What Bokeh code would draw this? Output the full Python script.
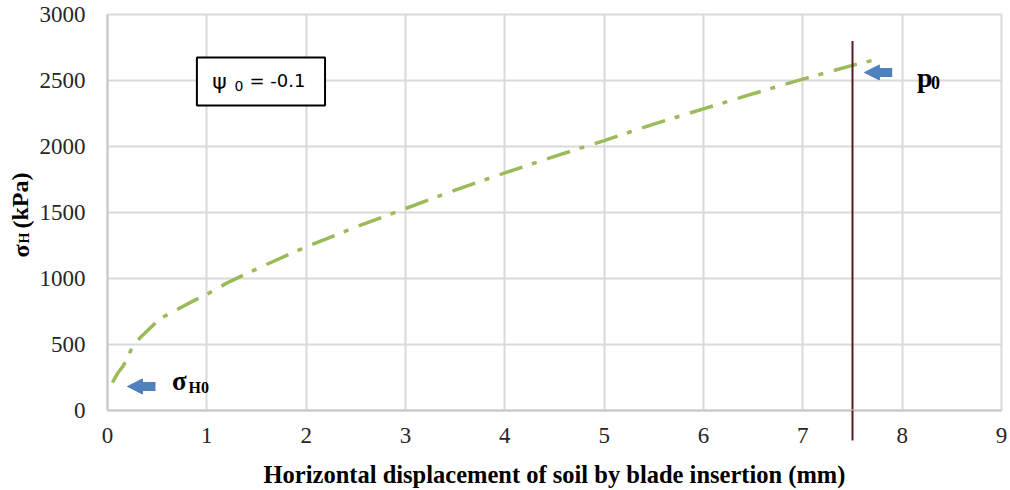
from bokeh.plotting import figure
from bokeh.layouts import row
from bokeh.models import (Range1d, FixedTicker, Label, BoxAnnotation, Arrow,
                          NormalHead)
from bokeh.embed import file_html
from bokeh.resources import INLINE

# Horizontal stress against soil displacement during blade insertion
disp_mm = [0.05, 0.10, 0.16, 0.25, 0.33, 0.43, 0.53, 0.70, 0.85, 1.00, 1.20,
           1.54, 2.00, 2.50, 3.00, 3.50, 4.00, 4.50, 5.00, 5.50, 6.00, 6.50,
           7.00, 7.50, 7.78]
sigma_h_kpa = [212, 280, 340, 480, 553, 625, 697, 765, 825, 880, 965,
               1086, 1240, 1390, 1530, 1670, 1800, 1925, 2045, 2170, 2285, 2400,
               2510, 2615, 2667]

x_ticks = [0, 1, 2, 3, 4, 5, 6, 7, 8, 9]
y_ticks = [0, 500, 1000, 1500, 2000, 2500, 3000]

p0_disp_mm = 7.5
p0_line_top_kpa = 2800
psi0 = -0.1

SERIF = "Liberation Serif"
GRID = "#d9d9d9"
BLUE = "#4f81bd"
MAROON = "#5a1a1a"

TITLE_W = 36  # strip that carries the vertical axis title

p = figure(width=1010 - TITLE_W, height=490, output_backend="svg",
           toolbar_location=None,
           x_range=Range1d(0, 9), y_range=Range1d(0, 3000),
           min_border_left=107 - TITLE_W, min_border_right=9,
           min_border_top=14, min_border_bottom=80)

p.background_fill_color = "white"
p.border_fill_color = "white"
p.outline_line_color = GRID
p.outline_line_width = 2

for ax in (p.xaxis[0], p.yaxis[0]):
    ax.major_tick_line_color = None
    ax.major_tick_out = 0
    ax.major_tick_in = 0
    ax.minor_tick_in = 0
    ax.axis_line_color = "#c8c8c8"
    ax.axis_line_width = 2
    ax.major_label_text_font = SERIF
    ax.major_label_text_font_size = "23px"
    ax.major_label_text_color = "#262626"

# the p0 marker continues below the axis as a long minor tick
p.xaxis[0].ticker = FixedTicker(ticks=x_ticks, minor_ticks=[p0_disp_mm])
p.xaxis[0].minor_tick_out = 30
p.xaxis[0].minor_tick_line_color = MAROON
p.xaxis[0].minor_tick_line_width = 2
p.xaxis[0].major_label_standoff = -13
p.yaxis[0].ticker = FixedTicker(ticks=y_ticks)
p.yaxis[0].minor_tick_line_color = None
p.yaxis[0].major_label_standoff = 22

p.xaxis[0].axis_label = "Horizontal displacement of soil by blade insertion (mm)"
p.xaxis[0].axis_label_text_font = SERIF
p.xaxis[0].axis_label_text_font_size = "24.5px"
p.xaxis[0].axis_label_text_font_style = "bold"
p.xaxis[0].axis_label_text_color = "black"
p.xaxis[0].axis_label_standoff = 15

p.xgrid[0].ticker = FixedTicker(ticks=x_ticks)
p.ygrid[0].ticker = FixedTicker(ticks=y_ticks)
for g in (p.xgrid[0], p.ygrid[0]):
    g.grid_line_color = GRID
    g.grid_line_width = 2

# measured curve
p.line(disp_mm, sigma_h_kpa, line_color="#9bbb59", line_width=3.5,
       line_dash="24 10 5 11")

# p0 marker line inside the plot area
p.segment(x0=[p0_disp_mm], y0=[0], x1=[p0_disp_mm], y1=[p0_line_top_kpa],
          line_color=MAROON, line_width=2)

# block arrows pointing at sigma_H0 and p0
for xs, xe, yy in ((0.483, 0.201, 182), (7.90, 7.62, 2561)):
    p.add_layout(Arrow(x_start=xs, y_start=yy, x_end=xe, y_end=yy,
                       line_color=BLUE, line_width=9,
                       end=NormalHead(size=15, fill_color=BLUE, line_color=BLUE,
                                      line_width=1)))


def lbl(fig, x, y, text, size, bold=True, font=SERIF, angle=0.0):
    fig.add_layout(Label(x=x, y=y, text=text, text_font=font,
                         text_font_size=f"{size}px",
                         text_font_style="bold" if bold else "normal",
                         text_baseline="alphabetic", text_align="left",
                         angle=angle, text_color="black"))


lbl(p, 0.65, 220, "σ", 27)
lbl(p, 0.815, 174, "H0", 16)
lbl(p, 8.15, 2523, "p", 28)
lbl(p, 8.29, 2485, "0", 18)

# annotation box for the state parameter
p.add_layout(BoxAnnotation(left=0.9, right=2.19, bottom=2310, top=2675,
                           fill_color="white", fill_alpha=1.0,
                           line_color="black", line_width=2, line_alpha=1.0))
lbl(p, 1.055, 2490, "ψ", 22, bold=False, font="DejaVu Sans")
lbl(p, 1.279, 2455, "0", 14, bold=False, font="DejaVu Sans")
lbl(p, 1.43, 2500, f"= {psi0}", 18, bold=False, font="DejaVu Sans")

# vertical axis title, set with a subscript in its own strip
t = figure(width=TITLE_W, height=490, output_backend="svg",
           toolbar_location=None, x_axis_type=None, y_axis_type=None,
           x_range=Range1d(0, TITLE_W), y_range=p.y_range,
           min_border=0)
t.outline_line_color = None
t.background_fill_color = "white"
t.border_fill_color = "white"
lbl(t, 20, 1159, "σ", 24, angle=1.5708)
lbl(t, 24, 1265, "H", 14, angle=1.5708)
lbl(t, 20, 1379, "(kPa)", 24, angle=1.5708)

layout = row(t, p, spacing=0)
open("out.html", "w").write(file_html(layout, INLINE))
